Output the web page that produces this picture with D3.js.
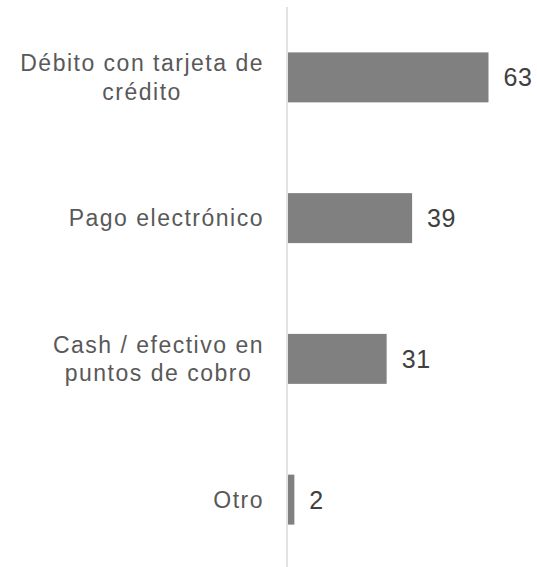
<!DOCTYPE html>
<html>
<head>
<meta charset="utf-8">
<script src="https://cdn.jsdelivr.net/npm/d3@7"></script>
<style>
  html, body { margin: 0; padding: 0; background: #fff; }
  svg { display: block; }
</style>
</head>
<body>
<svg id="chart" width="537" height="567"></svg>
<script>
// Payment methods and their counts
const categories = [
  ["Débito con tarjeta de", "crédito"],
  ["Pago electrónico"],
  ["Cash / efectivo en", "puntos de cobro"],
  ["Otro"]
];
const values = [63, 39, 31, 2];

const svg = d3.select("#chart");
const font = "'Liberation Sans', Arial, sans-serif";

const keys = categories.map((c, i) => i);

const y = d3.scaleBand()
  .domain(keys)
  .range([7, 570])
  .paddingInner(0.645)
  .paddingOuter(0.3225);

const x = d3.scaleLinear()
  .domain([0, 63])
  .range([288, 488.5]);

// Bars
svg.append("g")
  .selectAll("rect")
  .data(values)
  .join("rect")
  .attr("x", x(0))
  .attr("y", (d, i) => y(i))
  .attr("width", d => x(d) - x(0))
  .attr("height", y.bandwidth())
  .attr("fill", "#808080");

// Vertical category axis line
svg.append("line")
  .attr("x1", 287).attr("x2", 287)
  .attr("y1", 7).attr("y2", 567)
  .attr("stroke", "#d9d9d9")
  .attr("stroke-width", 1.5);

// Value labels
svg.append("g")
  .selectAll("text")
  .data(values)
  .join("text")
  .attr("x", d => x(d) + 15)
  .attr("y", (d, i) => y(i) + y.bandwidth() / 2)
  .attr("dy", "0.36em")
  .attr("font-family", font)
  .attr("font-size", 25)
  .attr("letter-spacing", 0.6)
  .attr("fill", "#404040")
  .text(d => d);

// Category labels: each block right-aligned, lines centred within it
const rightEdge = 264;
const lineH = 28.5;
const labels = svg.append("g");
categories.forEach((lines, i) => {
  const cy = y(i) + y.bandwidth() / 2;
  const g = labels.append("g");
  const texts = lines.map((ln, j) => g.append("text")
    .attr("y", cy + (j - (lines.length - 1) / 2) * lineH)
    .attr("dy", "0.36em")
    .attr("font-family", font)
    .attr("font-size", 23)
    .attr("letter-spacing", 1.5)
    .attr("fill", "#595959")
    .attr("text-anchor", "middle")
    .text(ln));
  const widths = texts.map(t => t.node().getComputedTextLength());
  const w = d3.max(widths);
  texts.forEach(t => t.attr("x", rightEdge - w / 2));
});
</script>
</body>
</html>
